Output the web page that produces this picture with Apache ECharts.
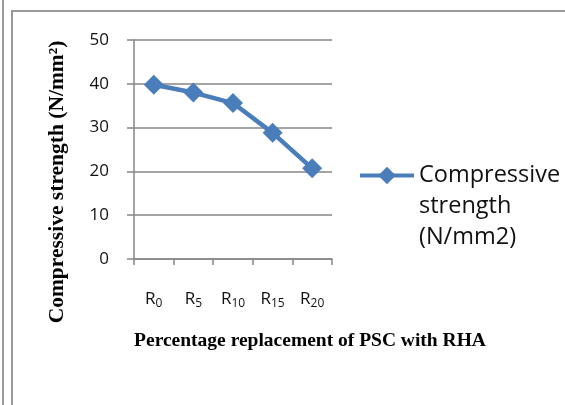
<!DOCTYPE html>
<html>
<head>
<meta charset="utf-8">
<script src="https://cdn.jsdelivr.net/npm/echarts@6/dist/echarts.min.js"></script>
<style>
html,body{margin:0;padding:0;background:#fff;}
#chart{width:565px;height:405px;}
</style>
</head>
<body>
<div id="chart"></div>
<script>
// Data
const categories = ['0', '5', '10', '15', '20'];   // R subscripts
const strength = [39.8, 38.0, 35.6, 28.8, 20.7];
const seriesName = 'Compressive\nstrength\n(N/mm2)';
const yTicks = { min: 0, max: 50, interval: 10 };
const xTitle = 'Percentage replacement of PSC with RHA';
const yTitle = 'Compressive strength (N/mm²)';

const blue = '#4A7EBB';
const gray = '#868686';
const ink = '#111';
const chart = echarts.init(document.getElementById('chart'), null, { renderer: 'canvas' });

chart.setOption({
  animation: false,
  backgroundColor: '#fff',
  grid: { left: 134, top: 40, width: 198, height: 219, containLabel: false },
  xAxis: {
    type: 'category',
    data: categories,
    boundaryGap: true,
    axisLine: { show: true, lineStyle: { color: gray, width: 1.5 } },
    axisTick: { show: true, length: 6, lineStyle: { color: gray, width: 1.5 } },
    axisLabel: {
      interval: 0,
      margin: 30,
      formatter: v => '{r|R}{s|' + v + '}',
      rich: {
        r: { fontFamily: 'Open Sans', fontSize: 17, color: ink },
        s: { fontFamily: 'Open Sans', fontSize: 12, color: ink, padding: [9, 0, 0, 0] }
      }
    },
    splitLine: { show: false }
  },
  yAxis: {
    type: 'value',
    min: yTicks.min, max: yTicks.max, interval: yTicks.interval,
    axisLine: { show: true, lineStyle: { color: gray, width: 1.5 } },
    axisTick: { show: true, length: 7, lineStyle: { color: gray, width: 1.5 } },
    axisLabel: { margin: 25, fontFamily: 'Open Sans', fontSize: 17, color: ink },
    splitLine: { show: true, lineStyle: { color: gray, width: 1.5 } }
  },
  legend: {
    left: 358, top: 98,
    padding: 0,
    itemWidth: 54, itemHeight: 22,
    itemGap: 5,
    data: [seriesName],
    formatter: name => '\n\n' + name,
    lineStyle: { width: 4 },
    textStyle: { fontFamily: 'Open Sans', fontSize: 23.5, color: ink, lineHeight: 31 }
  },
  series: [{
    name: seriesName,
    type: 'line',
    data: strength,
    symbol: 'diamond',
    symbolSize: 20,
    lineStyle: { color: blue, width: 4.5 },
    itemStyle: { color: blue },
    z: 5
  }],
  graphic: [
    { type: 'line', shape: { x1: 3, y1: 0, x2: 3, y2: 405 }, style: { stroke: '#999', lineWidth: 2 } },
    { type: 'line', shape: { x1: 12, y1: 11, x2: 12, y2: 405 }, style: { stroke: '#999', lineWidth: 2 } },
    { type: 'line', shape: { x1: 11, y1: 11, x2: 565, y2: 11 }, style: { stroke: '#999', lineWidth: 2 } },
    {
      type: 'text', x: 57, y: 182, rotation: Math.PI / 2,
      style: { text: yTitle, font: 'bold 21.5px "Liberation Serif"', fill: '#000', align: 'center', verticalAlign: 'middle' }
    },
    {
      type: 'text', x: 310, y: 341,
      style: { text: xTitle, font: 'bold 19.5px "Liberation Serif"', fill: '#000', align: 'center', verticalAlign: 'middle' }
    }
  ]
});
</script>
</body>
</html>
